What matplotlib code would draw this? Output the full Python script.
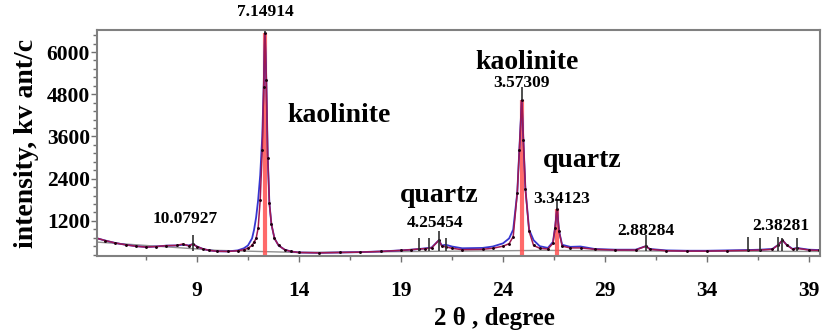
import matplotlib.pyplot as plt
from matplotlib.ticker import FixedLocator, MultipleLocator

# XRD pattern (2 theta in degrees, intensity in counts)
theta = [4.0, 4.5, 5.0, 5.5, 6.0, 6.5, 7.0, 7.5, 8.0, 8.3, 8.6, 8.8, 9.0, 9.3, 9.6,
         10.0, 10.5, 11.0, 11.3, 11.5, 11.7, 11.8, 11.9, 12.0, 12.1, 12.2, 12.27,
         12.33, 12.4, 12.47, 12.55, 12.65, 12.8, 13.0, 13.3, 13.6, 14.0, 15.0, 16.0,
         17.0, 18.0, 19.0, 19.5, 19.9, 20.2, 20.5, 20.86, 21.0, 21.2, 21.5, 22.0,
         23.0, 23.5, 24.0, 24.3, 24.5, 24.7, 24.8, 24.92, 25.0, 25.1, 25.28, 25.5,
         25.8, 26.2, 26.45, 26.55, 26.65, 26.75, 26.9, 27.3, 27.8, 28.5, 29.5, 30.5,
         31.0, 31.2, 32.0, 33.0, 34.0, 35.0, 36.0, 36.6, 37.2, 37.5, 37.7, 37.9,
         38.2, 38.4, 39.0, 39.5]
observed = [720, 640, 570, 520, 480, 455, 470, 495, 500, 520, 500, 540, 470, 400, 360,
            335, 330, 360, 420, 500, 700, 950, 1300, 1800, 2500, 3600, 5000,
            6550, 5200, 3000, 1700, 1100, 700, 500, 380, 330, 300, 290, 300,
            310, 330, 360, 380, 400, 420, 440, 650, 500, 520, 470, 420,
            430, 470, 560, 700, 950, 2000, 3200, 4630, 3500, 2100, 950, 650,
            480, 430, 600, 1000, 1550, 900, 520, 460, 470, 400, 380, 380,
            480, 400, 360, 350, 350, 360, 370, 380, 400, 520, 650, 520,
            400, 430, 380, 370]
calculated = [720, 640, 570, 520, 480, 455, 470, 495, 500, 540, 490, 540, 470, 400, 360,
              335, 330, 350, 380, 420, 500, 600, 700, 1000, 1800, 3200, 5000,
              6550, 5200, 3000, 1700, 1100, 700, 500, 380, 330, 300, 290, 300,
              310, 330, 360, 380, 400, 410, 430, 650, 480, 460, 420, 380,
              390, 420, 480, 550, 750, 2000, 3200, 4630, 3500, 2100, 900, 500,
              420, 400, 560, 1000, 1550, 900, 480, 430, 430, 390, 370, 370,
              480, 390, 350, 340, 340, 350, 360, 370, 390, 520, 650, 520,
              390, 420, 370, 360]

bg_theta = [4.0, 10.0, 14.0, 20.0, 26.0, 32.0, 39.5]
background = [600, 360, 300, 330, 360, 340, 330]

# stick lines (red) and peak markers (black)
stick_pos = [12.33, 24.92, 26.65]
stick_top = [6550, 4630, 1550]
marker_pos = [8.8, 12.33, 19.9, 20.35, 20.86, 21.2, 24.92, 26.65, 31.0,
              36.0, 36.6, 37.5, 37.7, 38.4]
marker_low = [330, 6550, 330, 330, 350, 350, 4630, 1550, 350,
              330, 330, 330, 330, 330]
marker_high = [800, 6630, 700, 700, 900, 700, 5000, 1800, 800,
               750, 700, 750, 720, 700]

d_labels = ['10.07927', '7.14914', '4.25454', '3.57309', '3.34123', '2.88284', '2.38281']
d_x = [8.4, 12.33, 20.67, 24.92, 26.9, 31.0, 37.6]
d_y = [1257, 7143, 1143, 5114, 1829, 914, 1057]

phase_labels = ['kaolinite', 'kaolinite', 'quartz', 'quartz']
phase_x = [15.96, 25.18, 27.87, 20.86]
phase_y = [4200, 5714, 2914, 1914]

serif = 'Liberation Serif'

fig = plt.figure(figsize=(8.22, 3.34), dpi=100)
ax = fig.add_axes([0.118, 0.2335, 0.8796, 0.677])

ax.plot(bg_theta, background, color='#909090', lw=1)
ax.vlines(stick_pos, 200, stick_top, color='#ff5050', lw=3, alpha=0.85)
ax.plot(theta, observed, color='#3636d0', lw=1.3)
ax.plot(theta, calculated, color='#a01850', lw=1.1, marker='o', ms=1.1,
        mfc='#200010', mec='#200010')
ax.vlines(marker_pos, marker_low, marker_high, color='#303030', lw=1.2)

for t, x, y in zip(d_labels, d_x, d_y):
    ax.text(x, y, t, ha='center', va='center', fontsize=12.5, fontweight='bold',
            family=serif, clip_on=False)
for t, x, y in zip(phase_labels, phase_x, phase_y):
    ax.text(x, y, t, ha='center', va='center', fontsize=20, fontweight='bold',
            family=serif)

ax.set_xlim(4.1, 39.54)
ax.set_ylim(200, 6629)
ax.xaxis.set_major_locator(FixedLocator([9, 14, 19, 24, 29, 34, 39]))
ax.xaxis.set_minor_locator(FixedLocator([6.5, 11.5, 16.5, 21.5, 26.5, 31.5, 36.5]))
ax.yaxis.set_major_locator(FixedLocator([1200, 2400, 3600, 4800, 6000]))
ax.yaxis.set_minor_locator(MultipleLocator(240))
ax.tick_params(which='both', direction='out', color='#707070', width=1)
ax.tick_params(which='major', length=4, labelsize=15.5)
ax.tick_params(axis='x', which='major', pad=14)
ax.tick_params(axis='y', which='major', pad=1)
ax.tick_params(which='minor', length=3)
for lab in ax.get_xticklabels() + ax.get_yticklabels():
    lab.set_family(serif)
    lab.set_fontweight('bold')
for s in ax.spines.values():
    s.set_color('#808080')
    s.set_linewidth(1.5)

ax.set_xlabel('2 θ , degree', family=serif, fontweight='bold', fontsize=18)
ax.xaxis.set_label_coords(0.549, -0.225)
ax.set_ylabel('intensity, kv ant/c', family=serif, fontweight='bold', fontsize=20)
ax.yaxis.set_label_coords(-0.08, 0.5)

fig.savefig('out.png', dpi=100)
